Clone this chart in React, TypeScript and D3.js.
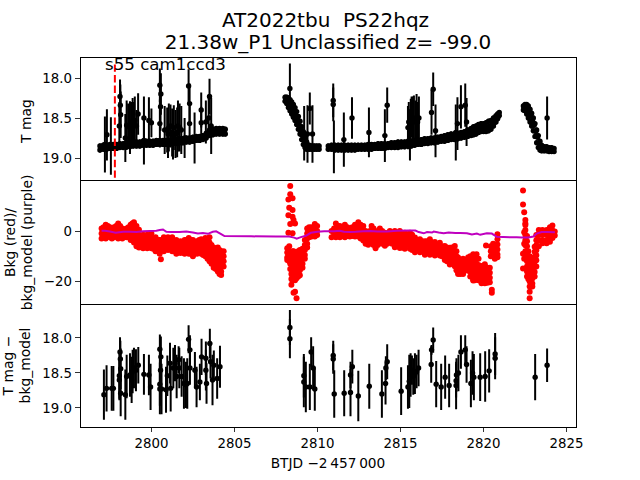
import React from "react";
import * as d3 from "d3";

const titleLines = ["AT2022tbu  PS22hqz", "21.38w_P1 Unclassified z= -99.0"];
const sectorLabel = "s55 cam1ccd3";
const xTicks = [2800, 2805, 2810, 2815, 2820, 2825];
const magTicks = [18.0, 18.5, 19.0];
const bkgTicks = [0, -20];
const markerDay = 2797.8;

// dense, low-noise photometry band (T mag panel): a bright and a faint reading per epoch
const bandDays = [
  2796.9,2797.1,2797.3,2797.5,2797.7,2797.9,2798.1,2798.3,2798.5,2798.7,2798.9,2799.1,2799.3,2799.5,2799.7,2799.9,2800.1,2800.3,2800.5,2800.7,
  2800.9,2801.1,2801.3,2801.5,2801.7,2801.9,2802.1,2802.3,2802.5,2802.7,2802.9,2803.1,2803.3,2803.5,2803.7,2803.9,2804.1,2804.3,2804.45,
  2808.05,2808.15,2808.25,2808.35,2808.45,2808.55,2808.65,2808.75,2808.85,2808.95,2809.05,2809.15,2809.25,2809.35,2809.5,2809.65,2809.8,2809.95,2810.1,
  2810.65,2810.85,2811.05,2811.25,2811.45,2811.65,2811.85,2812.05,2812.25,2812.45,2812.65,2812.85,2813.05,2813.25,2813.45,2813.65,2813.85,2814.05,2814.25,2814.45,
  2814.65,2814.85,2815.05,2815.25,2815.45,2815.65,2815.85,2816.05,2816.25,2816.45,2816.65,2816.85,2817.05,2817.25,2817.45,2817.65,2817.85,2818.05,2818.25,2818.45,
  2818.65,2818.85,2819.05,2819.25,2819.4,2819.55,2819.7,2819.85,2820.0,2820.15,2820.3,2820.45,2820.6,2820.75,2820.85,2820.95,
  2822.4,2822.5,2822.6,2822.7,2822.8,2822.9,2823.0,2823.1,2823.2,2823.3,2823.4,2823.5,2823.65,2823.8,2823.95,2824.1,2824.25,
];
const bandBright = [
  18.85,18.84,18.84,18.83,18.83,18.83,18.82,18.82,18.81,18.81,18.80,18.80,18.80,18.79,18.79,18.79,18.79,18.78,18.78,18.78,
  18.78,18.78,18.77,18.77,18.76,18.76,18.75,18.75,18.74,18.73,18.73,18.72,18.69,18.65,18.64,18.63,18.63,18.63,18.64,
  18.24,18.24,18.25,18.27,18.30,18.33,18.37,18.42,18.48,18.54,18.61,18.67,18.74,18.80,18.84,18.85,18.85,18.85,18.85,
  18.85,18.84,18.84,18.84,18.84,18.84,18.84,18.84,18.84,18.84,18.84,18.84,18.83,18.83,18.83,18.82,18.82,18.82,18.82,18.81,
  18.81,18.80,18.80,18.80,18.79,18.79,18.78,18.78,18.77,18.76,18.76,18.75,18.75,18.74,18.73,18.72,18.71,18.70,18.70,18.69,
  18.68,18.67,18.65,18.63,18.61,18.60,18.58,18.57,18.57,18.56,18.54,18.53,18.50,18.47,18.45,18.43,
  18.35,18.33,18.33,18.35,18.39,18.44,18.50,18.57,18.65,18.72,18.79,18.84,18.86,18.86,18.87,18.87,18.88,
];
const bandFaint = [
  18.90,18.89,18.89,18.88,18.88,18.88,18.87,18.87,18.86,18.86,18.85,18.85,18.85,18.84,18.84,18.84,18.84,18.83,18.83,18.83,
  18.83,18.83,18.82,18.82,18.81,18.81,18.80,18.80,18.79,18.78,18.78,18.77,18.75,18.72,18.71,18.70,18.70,18.70,18.70,
  18.29,18.32,18.37,18.41,18.45,18.49,18.53,18.58,18.64,18.70,18.77,18.83,18.87,18.89,18.89,18.89,18.89,18.89,18.89,
  18.89,18.89,18.90,18.90,18.90,18.90,18.90,18.90,18.90,18.89,18.89,18.89,18.89,18.89,18.88,18.88,18.88,18.88,18.87,18.87,
  18.87,18.87,18.86,18.86,18.85,18.85,18.84,18.83,18.83,18.82,18.82,18.81,18.81,18.80,18.79,18.79,18.78,18.77,18.77,18.76,
  18.75,18.74,18.73,18.72,18.71,18.70,18.68,18.67,18.67,18.67,18.66,18.64,18.60,18.55,18.51,18.47,
  18.40,18.41,18.45,18.50,18.55,18.60,18.66,18.73,18.81,18.87,18.90,18.91,18.91,18.91,18.92,18.92,18.92,
];
const bandMidDays = [
  2797.0,2797.2,2797.4,2797.6,2797.8,2798.0,2798.2,2798.4,2798.6,2798.8,2799.0,2799.2,2799.4,2799.6,2799.8,2800.0,2800.2,2800.4,2800.6,2800.8,
  2801.0,2801.2,2801.4,2801.6,2801.8,2802.0,2802.2,2802.4,2802.6,2802.8,2803.0,2803.2,2803.4,2803.6,2803.8,2804.0,2804.2,2804.4,
  2808.1,2808.2,2808.3,2808.4,2808.5,2808.6,2808.7,2808.8,2808.9,2809.0,2809.1,2809.2,2809.3,2809.42,2809.58,2809.72,2809.88,2810.02,
  2810.75,2810.95,2811.15,2811.35,2811.55,2811.75,2811.95,2812.15,2812.35,2812.55,2812.75,2812.95,2813.15,2813.35,2813.55,2813.75,2813.95,2814.15,2814.35,2814.55,
  2814.75,2814.95,2815.15,2815.35,2815.55,2815.75,2815.95,2816.15,2816.35,2816.55,2816.75,2816.95,2817.15,2817.35,2817.55,2817.75,2817.95,2818.15,2818.35,2818.55,
  2818.75,2818.95,2819.15,2819.32,2819.48,2819.62,2819.78,2819.92,2820.08,2820.22,2820.38,2820.52,2820.68,2820.8,2820.9,
  2822.45,2822.55,2822.65,2822.75,2822.85,2822.95,2823.05,2823.15,2823.25,2823.35,2823.45,2823.58,2823.72,2823.88,2824.02,2824.18,
];
const bandMidMags = [
  18.87,18.87,18.86,18.86,18.855,18.85,18.85,18.845,18.84,18.835,18.83,18.825,18.82,18.82,18.815,18.81,18.81,18.81,18.805,18.805,
  18.80,18.80,18.795,18.79,18.785,18.78,18.775,18.77,18.765,18.76,18.755,18.74,18.72,18.69,18.67,18.665,18.665,18.67,
  18.27,18.29,18.32,18.35,18.39,18.43,18.47,18.53,18.59,18.65,18.72,18.78,18.84,18.86,18.87,18.87,18.87,18.87,
  18.87,18.87,18.87,18.87,18.87,18.87,18.87,18.87,18.87,18.87,18.865,18.865,18.86,18.86,18.855,18.85,18.85,18.85,18.845,18.84,
  18.84,18.835,18.83,18.83,18.82,18.82,18.81,18.805,18.80,18.79,18.79,18.78,18.78,18.77,18.76,18.755,18.745,18.735,18.735,18.725,
  18.715,18.705,18.69,18.675,18.66,18.65,18.63,18.62,18.62,18.615,18.60,18.585,18.55,18.51,18.48,
  18.37,18.37,18.39,18.43,18.47,18.53,18.59,18.67,18.74,18.82,18.87,18.88,18.88,18.89,18.89,18.90,
];
const bandErr = 0.03;

// outlying T mag epochs with large error bars
const topDays = [
  2797.2,2797.32,2797.56,2798.11,2798.13,2798.15,2798.07,2798.43,2798.51,2798.6,2798.71,2798.8,2798.87,2798.95,2799.0,2799.1,2799.2,2799.55,2799.55,2799.85,2800.0,2800.51,2800.57,2800.55,2800.51,
  2800.8,2800.95,2801.0,2801.05,2801.15,2801.25,2801.3,2801.35,2801.45,2801.55,2801.6,2801.7,2801.8,2802.0,2802.24,2802.3,2802.3,2802.6,2803.0,2803.0,2803.28,2803.45,2803.5,2803.6,
  2808.34,2809.2,2809.4,2809.54,2809.7,2810.95,2810.95,2810.99,2811.59,2812.08,2813.1,2814.06,2814.2,2815.45,2815.5,2815.57,2815.62,2815.67,2815.75,2815.81,2815.9,2815.97,2816.03,2816.11,
  2816.87,2816.97,2817.11,2818.33,2818.43,2818.64,2818.9,2818.98,2823.83,
];
const topMags = [
  18.83,18.71,18.85,18.23,18.34,18.46,18.60,18.75,18.59,18.60,18.62,18.58,18.55,18.58,18.53,18.60,18.45,18.50,18.78,18.53,18.56,18.09,18.20,18.36,18.57,
  18.65,18.65,18.70,18.62,18.60,18.68,18.72,18.62,18.70,18.68,18.60,18.62,18.65,18.75,18.10,18.32,18.57,18.75,18.40,18.56,18.55,18.50,18.23,18.60,
  18.13,18.69,18.70,18.38,18.70,18.28,18.33,18.86,18.77,18.50,18.68,18.72,18.34,18.62,18.55,18.71,18.52,18.48,18.50,18.52,18.55,18.50,18.55,18.50,
  18.43,18.14,18.66,18.68,18.57,18.36,18.34,18.55,18.50,
];
const topErrs = [
  .35,.32,.36,.21,.26,.29,.30,.30,.31,.28,.33,.28,.30,.28,.30,.20,.26,.27,.30,.29,.18,.21,.26,.30,.30,
  .30,.28,.30,.30,.27,.30,.30,.28,.30,.31,.32,.30,.30,.25,.21,.25,.25,.32,.22,.20,.27,.25,.22,.35,
  .31,.34,.36,.20,.36,.21,.21,.33,.34,.26,.31,.33,.22,.27,.25,.32,.26,.25,.27,.30,.27,.30,.25,.27,
  .28,.21,.33,.35,.33,.27,.27,.30,.27,
];

// background-subtracted residual panel
const residDays = [
  2797.14,2797.30,2797.61,2797.71,2798.07,2798.11,2798.13,2798.15,2798.07,2798.15,2798.43,2798.51,2798.71,2798.81,2798.87,2798.95,2799.07,2799.21,2799.55,2799.85,2799.95,
  2800.51,2800.57,2800.55,2800.51,2800.51,2800.61,2800.88,2800.96,2801.12,2801.16,2801.32,2801.42,2801.52,2801.64,2801.68,2801.82,2801.96,2802.08,2802.16,2802.24,2802.32,2802.32,
  2802.62,2802.72,2802.92,2803.02,2803.28,2803.28,2803.32,2803.52,2803.56,2803.68,2803.76,2803.96,2804.13,
  2808.34,2808.34,2809.18,2809.18,2809.30,2809.54,2809.62,2809.74,2809.84,2810.95,2810.95,2811.01,
  2811.61,2811.99,2811.99,2812.10,2812.46,2813.12,2813.88,2814.10,2814.12,2814.20,2815.04,2815.45,2815.53,2815.61,2815.69,2815.77,2815.87,2815.97,2816.09,
  2816.85,2816.87,2816.97,2817.15,2817.45,2817.69,2817.93,2818.35,2818.35,2818.37,2818.49,2818.64,2818.90,2818.98,2819.24,2819.34,2819.42,2819.80,2820.10,2820.34,2820.70,2820.70,2823.11,2823.83,
];
const residMags = [
  18.81,18.72,18.72,18.72,18.60,18.20,18.30,18.44,18.54,18.79,18.81,18.55,18.53,18.60,18.48,18.43,18.46,18.39,18.52,18.53,18.70,
  18.16,18.27,18.46,18.66,18.73,18.73,18.74,18.54,18.36,18.72,18.43,18.36,18.55,18.31,18.43,18.55,18.65,18.67,18.65,18.02,18.17,18.43,
  18.46,18.70,18.63,18.27,18.46,18.29,18.65,18.08,18.34,18.60,18.39,18.58,18.41,
  17.85,18.01,18.54,18.63,18.70,18.70,18.20,18.43,18.73,18.25,18.30,18.80,
  18.79,18.78,18.53,18.41,18.83,18.69,18.80,18.65,18.43,18.34,18.76,18.70,18.62,18.53,18.46,18.55,18.51,18.48,18.43,
  18.38,18.17,18.03,18.66,18.70,18.56,18.68,18.68,18.61,18.53,18.50,18.20,18.17,18.38,18.65,18.50,18.56,18.56,18.55,18.47,18.23,18.29,18.56,18.39,
];
const residErrs = [
  .36,.33,.32,.32,.29,.21,.26,.29,.33,.33,.36,.31,.31,.33,.31,.29,.30,.26,.29,.29,.33,
  .21,.29,.33,.31,.36,.36,.33,.29,.29,.33,.29,.26,.31,.19,.29,.29,.36,.33,.36,.20,.21,.24,
  .26,.29,.26,.26,.29,.24,.29,.21,.24,.36,.21,.29,.30,
  .25,.28,.31,.36,.36,.33,.21,.31,.31,.21,.21,.34,
  .33,.34,.19,.24,.36,.32,.34,.30,.17,.25,.34,.31,.38,.31,.21,.26,.29,.24,.26,
  .26,.07,.18,.33,.33,.31,.31,.34,.24,.24,.26,.24,.21,.26,.34,.31,.33,.34,.36,.31,.30,.30,.33,.24,
];

// measured background: one list of values per epoch column
const bkgDays = [
  2797.0,2797.25,2797.5,2797.75,2798.0,2798.25,2798.5,2798.75,2798.95,2799.25,2799.5,2799.75,2800.0,2800.25,2800.5,2800.57,2800.75,2801.0,2801.25,2801.5,2801.75,
  2802.0,2802.25,2802.5,2802.75,2803.0,2803.25,2803.5,2803.75,2804.0,2804.2,2804.35,
  2808.18,2808.25,2808.3,2808.36,2808.43,2808.5,2808.56,2808.65,2808.74,2808.84,2808.94,2809.1,2809.24,2809.38,2809.5,2809.64,2809.84,2809.98,
  2810.85,2811.11,2811.35,2811.65,2811.95,2812.26,2812.46,2812.76,2813.06,2813.26,2813.5,2813.76,2814.06,2814.36,2814.66,2814.96,2815.26,2815.57,2815.87,2816.17,2816.47,2816.77,
  2817.07,2817.37,2817.67,2817.97,2818.27,2818.47,2818.77,2819.07,2819.38,2819.58,2819.88,2820.08,2820.15,2820.38,2820.44,2820.5,2820.58,2820.68,2820.84,
  2822.38,2822.45,2822.52,2822.62,2822.7,2822.78,2822.86,2822.94,2823.08,2823.18,2823.33,2823.55,2823.8,2824.0,2824.15,2824.29,
];
const bkgValues = [
  [1,-1,-3],[2.5,.5,-1.5,-3],[1.5,-.5,-2.5],[1.5,-.5,-2.5],[3,1,-1,-3],[1,-1,-3],[1,-1,-2.5],[2.5,.5,-1.5,-3.5],[3.5,1.5,-.5,-2.5,-4.5],[.5,-1.5,-3.5,-5.5,-6.5],[-1.5,-3.5,-5.5,-6.8],[-1.5,-3.5,-5.5,-6.8],[-1,-3,-5,-6.8],[-2.5,-4.5,-6.5,-8],[-3.5,-5.5,-7.5,-9],[-11.2],[-2.5,-4.5,-6.5,-8],[-2.5,-4.5,-6,-7.5],[-2.5,-4.5,-6.5,-8],[-3.5,-5.5,-7.5,-9],[-4,-6,-8,-8.7],
  [-3.5,-5.5,-7.5,-9],[-2.8,-4.8,-6.8,-9],[-3.5,-5.5,-7.5,-9.5,-10],[-4,-6,-8,-9],[-3.3,-5.3,-7.3,-9],[-2.8,-4.8,-6.8,-8.8,-10],[-2.5,-4.5,-6.5,-8.5,-10.5,-12],[-6.5,-8.5,-10.5,-12.5,-14.5],[-6.5,-8.5,-10.5,-12.5,-14.5,-16],[-8,-10,-12,-14,-16,-17.4],[-8,-10,-12,-14],
  [-6.8,-8.5,-10.5,-11.5],[-.7,12.5,6.3],[-6,-8,-10,-12,9.2],[-9,-11,-13,-15,2.8,17.8,14.6],[-8.8,-11,-13,-15,-17,-19,-21.3],[-8,-10,-12,-14,-16,-18,-19.5,13,8.3,5.7,-.9],[4.4,-24.4,-8,-11,-15],[3,-10,-13,-17,-19.5,-24],[-9,-11,-13,-15,-17,-18.7,-26.6],[-8,-10,-12,-14,-16,-18],[-7.5,-9.5,-11.5,-13.5,-15.5,-17.5],[-7,-9,-11,-13,-14.5],[-3.5,-5.5,-7.5,-9.5,-11],[1,-1,-3,-5,-6.5],[1.5,-.5,-2.5],[1.5,-.5,-2.2],[2.8,.8,-1.2,-2.2],[2,0,-1.6],
  [0,-2.5],[3,1,-1,-2.5],[2,0,-2,-2.5],[2.5,.5,-1.5,-2.5],[1,-1,-2.2],[2.5,.5,-1.5,-2.2],[3.5,1.5,-.5,-2.2],[2,0,-2,-3.7],[-.7,-2.7,-4.7,-5.4],[2,0,-2,-3.7],[-.7,-2.7,-4.7,-6.8],[1,-1,-3.7],[-.7,-2.7,-4.7,-5.8],[0,-2,-4.5],[0,-2,-4,-6.4],[0,-2,-4,-6.7],[-.7,-2.7,-4.7,-7],[-.7,-2.7,-4.7,-7],[-2.6,-4.6,-6.6,-8.4],[-3.3,-5.3,-7.3,-8.4],[-4,-6,-8,-9.4],[-3.3,-5.3,-7.3,-9.4],
  [-4.3,-6.3,-8.3,-9.7],[-4.6,-6.6,-8.6,-9.7],[-5.9,-7.9,-9.9,-11.5],[-6.6,-8.6,-10.6,-12.6,-13.3],[-5.9,-7.9,-9.9,-11.9,-13.9],[-10.5,-12.5,-14.5,-16.5,-17],[-11,-13,-15,-17],[-10.5,-12.5,-14.5,-15.7],[-9.2,-11.2,-13.2,-15.2,-17.2,-19.2,-19.6],[-9.2,-11.2,-13.2,-15.2,-17.6],[-13.8,-15.8,-17.8,-19.8,-20.7],[-13.2,-15.2,-17.2,-19.2,-20.7],[-5.7],[-14.5,-16.5,-18.5,-20.3],[-6,-8,-10],[-24.4,-23.3],[-5,-7,-9],[-5.3,-7.3,-9.3,-11],[-1.3,-3.3,-5.3,-7.3,-9.3,-10.4],
  [16.1,10.5,-9,-14.8],[7.4,-.5,-5,-11],[4.4,3,2.4,.4,-1.6,-3.6,-5.6,-8],[-2,-4,-6,-8,-10,-12,-14,-16,-18],[-8,-10,-12,-15,-19],[-10,-12,-14,-16,-18,-20,-22,-24,-26.6],[-11,-13,-16,-19,-22],[-10.8,-12.8,-14.8,-16.8,-18.8,-20.8,-22],[-6.2,-8.2,-10.2,-12.2,-14.2,-16.2,-18],[-1.6,-3.6,-5.6,-7.6,-9.6,-11.6,-14],[.4,-1.6,-3.6,-6],[.4,-1.6,-3.6,-4.8],[.4,-1.6,-3.6,-4.8],[1.5,-.5,-2.5,-4.2],[2.2,.2,-1.8,-2.8],[-.2,-1.8],
];
// in-between epochs of the background, staggered against the columns above
const bkgMidDays = [
  2797.12,2797.38,2797.62,2797.88,2798.12,2798.38,2798.62,2798.85,2799.1,2799.38,2799.62,2799.88,2800.12,2800.38,2800.62,2800.88,2801.12,2801.38,2801.62,2801.88,
  2802.12,2802.38,2802.62,2802.88,2803.12,2803.38,2803.62,2803.88,2804.1,
  2811.0,2811.23,2811.5,2811.8,2812.1,2812.36,2812.6,2812.9,2813.16,2813.38,2813.63,2813.9,2814.2,2814.5,2814.8,2815.1,2815.4,2815.7,2816.0,2816.3,2816.6,2816.9,
  2817.2,2817.5,2817.8,2818.1,2818.37,2818.6,2818.9,2819.2,2819.48,2819.7,2819.98,2820.23,
];
const bkgMidValues = [
  [1.5,-.5,-2.5],[2,0,-2],[.5,-1.5,-3],[2,0,-2],[2,0,-2],[0,-2],[1.5,-.5,-2.5],[3,1,-1,-3],[2,0,-2,-4,-6],[-2.5,-4.5,-6],[-2.5,-4.5,-6],[-2,-4,-6],[-3,-5,-7],[-3.5,-5.5,-7.5],[-3.5,-5.5,-7.5],[-3.5,-5.5,-7],[-3.5,-5.5,-7],[-4.5,-6.5,-8],[-4.5,-6.5,-8.5],[-4.5,-6.5,-8.5],
  [-3.5,-5.5,-7.5],[-3.5,-5.5,-7.5,-9],[-4.5,-6.5,-8.5],[-3.5,-5.5,-7.5],[-3.5,-5.5,-7.5,-9.5],[-3.5,-5.5,-7.5,-9.5,-11],[-5.5,-7.5,-9.5,-11.5,-13],[-7.5,-9.5,-11.5,-13.5,-15],[-7.5,-9.5,-11.5,-13.5,-15.5,-17],
  [1,-1],[2,0,-2],[1.5,-.5,-2],[1.5,-.5,-2],[1.5,-.5,-2],[2,0,-2],[2.5,.5,-1.5,-3],[0,-2,-4,-5],[0,-2,-4,-4.5],[1,-1,-3,-5.5],[0,-2,-4,-5.5],[0,-2,-4,-5],[-1,-3,-5],[-1,-3,-5],[-1,-3,-5.5],[-1,-3,-5,-6.5],[-1.5,-3.5,-5.5],[-1.5,-3.5,-5.5,-7.5],[-3.5,-5.5,-7.5],[-4,-6,-8],[-4,-6,-8],[-4.5,-6.5,-8.5],
  [-5.5,-7.5,-9],[-6,-8,-10],[-6.5,-8.5,-10.5,-12],[-6.5,-8.5,-10.5,-12.5],[-8,-10,-12,-14,-15.5],[-11.5,-13.5,-15.5,-17],[-11.5,-13.5,-15.5],[-10,-12,-14,-16,-18],[-10,-12,-14,-16,-18,-19.5],[-11,-13.5,-15.5,-17.5,-19.5],[-14,-16,-18,-20],[-14.5,-16.5,-18.5,-20.5],
];

// purple model curve
const modelDays = [
  2797.0,2797.2,2797.5,2797.85,2798.3,2798.7,2799.1,2799.5,2799.9,2800.3,2800.5,2800.7,2800.9,2801.2,2801.7,2802.1,2802.5,2802.8,2803.1,2803.4,2803.7,2803.9,2804.2,2804.4,
  2806,2807.5,2808.3,2808.6,2808.75,2809.0,2809.3,2809.6,2810.0,2810.4,2810.75,2811.0,2811.35,2811.6,2811.95,2812.3,2812.76,2813.2,2813.6,2814.2,2814.8,2815.5,2815.9,2816.1,2816.4,2816.6,2816.9,2817.0,2817.3,2817.6,2817.9,2818.3,2818.6,2819.0,2819.3,2819.6,2819.8,2820.2,2820.5,2820.8,2821.2,2822,2822.3,2822.7,2823.0,2823.2,2823.5,2823.8,2824.3,
];
const modelVals = [
  .1,.1,-.2,-.7,-.3,-.3,-.4,-.1,0,.1,.4,.6,-.3,-.4,-.4,-.2,-.6,-1,-.8,-1.1,-.3,-.1,-1.2,-2,
  -2.1,-2.2,-2.2,-2.6,-3,-2.4,-1.9,-.7,-.3,-.1,-.1,-.1,.1,-.3,-.4,-.3,-.1,0,-.2,-.2,.1,.2,.2,-.4,-.9,-.4,-.6,-.2,-.6,-.9,-.6,-.8,-.8,-.9,-1.4,-1,-1.5,-.9,-1,-2.3,-2.4,-2.5,-2.6,-2.6,-2.2,-1,-.4,-.4,-.5,
];

const W = 640, H = 480, L = 80, R = 576;
const x = d3.scaleLinear().domain([2795.7, 2825.57]).range([L, R]);
const panels = [
  { top: 57.6, bottom: 180.8 },
  { top: 180.8, bottom: 304 },
  { top: 304, bottom: 427.2 },
];
const yTop = d3.scaleLinear().domain([17.745, 19.285]).range([panels[0].top, panels[0].bottom]);
const yMid = d3.scaleLinear().domain([19.9, -28.9]).range([panels[1].top, panels[1].bottom]);
const yBot = d3.scaleLinear().domain([17.515, 19.275]).range([panels[2].top, panels[2].bottom]);

const FONT = "'DejaVu Sans', sans-serif";
const modelLine = d3.line<number>().x((d) => x(d)).y((_, i) => yMid(modelVals[i]));

function ErrPoints({ days, mags, errs, y }: { days: number[]; mags: number[]; errs: number[] | number; y: d3.ScaleLinear<number, number> }) {
  return (
    <g>
      {days.map((d, i) => {
        const e = typeof errs === "number" ? errs : errs[i];
        return (
          <g key={i}>
            <line x1={x(d)} x2={x(d)} y1={y(mags[i] - e)} y2={y(mags[i] + e)} stroke="#000" strokeWidth={2} />
            <circle cx={x(d)} cy={y(mags[i])} r={2.7} fill="#000" />
          </g>
        );
      })}
    </g>
  );
}

function Columns({ days, values }: { days: number[]; values: number[][] }) {
  return (
    <g>
      {days.map((d, i) =>
        values[i].map((v, j) => <circle key={`${i}-${j}`} cx={x(d)} cy={yMid(v)} r={3} fill="#ff0000" />)
      )}
    </g>
  );
}

function YAxis({ ticks, y, fmt }: { ticks: number[]; y: d3.ScaleLinear<number, number>; fmt: (v: number) => string }) {
  return (
    <g>
      {ticks.map((t) => (
        <g key={t}>
          <line x1={L - 4.7} x2={L} y1={y(t)} y2={y(t)} stroke="#000" strokeWidth={0.8} shapeRendering="crispEdges" />
          <text x={L - 8} y={y(t)} dy="0.36em" textAnchor="end" fontSize={13.33} fontFamily={FONT} fill="#000">{fmt(t)}</text>
        </g>
      ))}
    </g>
  );
}

function YLabel({ lines, cx, cy }: { lines: string[]; cx: number[]; cy: number }) {
  return (
    <g>
      {lines.map((s, i) => (
        <text key={i} transform={`translate(${cx[i]},${cy}) rotate(-90)`} textAnchor="middle" fontSize={13.9} fontFamily={FONT} fill="#000">{s}</text>
      ))}
    </g>
  );
}

export default function App() {
  const fmtMag = (v: number) => v.toFixed(1);
  const fmtBkg = (v: number) => (v < 0 ? "\u2212" + Math.abs(v) : String(v));
  return (
    <svg width={W} height={H} viewBox={`0 0 ${W} ${H}`} style={{ position: "absolute", left: 0, top: 0, background: "#fff" }}>
      <defs>
        {panels.map((p, i) => (
          <clipPath id={`clip${i}`} key={i}>
            <rect x={L} y={p.top} width={R - L} height={p.bottom - p.top} />
          </clipPath>
        ))}
      </defs>

      <g clipPath="url(#clip0)">
        <ErrPoints days={topDays} mags={topMags} errs={topErrs} y={yTop} />
        <ErrPoints days={bandDays} mags={bandBright} errs={bandErr} y={yTop} />
        <ErrPoints days={bandDays} mags={bandFaint} errs={bandErr} y={yTop} />
        <ErrPoints days={bandMidDays} mags={bandMidMags} errs={bandErr} y={yTop} />
        <line x1={x(markerDay)} x2={x(markerDay)} y1={yTop(17.83)} y2={panels[0].bottom} stroke="#ff0000" strokeWidth={2} strokeDasharray="7.4 3.2" />
      </g>

      <g clipPath="url(#clip1)">
        <Columns days={bkgDays} values={bkgValues} />
        <Columns days={bkgMidDays} values={bkgMidValues} />
        <path d={modelLine(modelDays) ?? ""} fill="none" stroke="#bf00bf" strokeWidth={2} />
      </g>

      <g clipPath="url(#clip2)">
        <ErrPoints days={residDays} mags={residMags} errs={residErrs} y={yBot} />
      </g>

      {panels.map((p, i) => (
        <rect key={i} x={L} y={p.top} width={R - L} height={p.bottom - p.top} fill="none" stroke="#000" strokeWidth={1} shapeRendering="crispEdges" />
      ))}

      <YAxis ticks={magTicks} y={yTop} fmt={fmtMag} />
      <YAxis ticks={bkgTicks} y={yMid} fmt={fmtBkg} />
      <YAxis ticks={magTicks} y={yBot} fmt={fmtMag} />

      {xTicks.map((t) => (
        <g key={t}>
          <line x1={x(t)} x2={x(t)} y1={427.2} y2={431.9} stroke="#000" strokeWidth={0.8} shapeRendering="crispEdges" />
          <text x={x(t)} y={448} textAnchor="middle" fontSize={13.33} fontFamily={FONT} fill="#000">{t}</text>
        </g>
      ))}

      <text x={325.5} y={27} textAnchor="middle" fontSize={20} fontFamily={FONT} fill="#000" style={{ whiteSpace: "pre" }}>{titleLines[0]}</text>
      <text x={328} y={49} textAnchor="middle" fontSize={20} fontFamily={FONT} fill="#000">{titleLines[1]}</text>
      <text x={105} y={70} fontSize={16.67} fontFamily={FONT} fill="#000">{sectorLabel}</text>

      <YLabel lines={["T mag"]} cx={[31]} cy={121} />
      <YLabel lines={["Bkg (red)/", "bkg_model (purple)"]} cx={[15, 32]} cy={242.5} />
      <YLabel lines={["T mag \u2212", "bkg_model"]} cx={[13, 30]} cy={365.5} />

      <text x={328} y={468} textAnchor="middle" fontSize={13.7} fontFamily={FONT} fill="#000">{"BTJD \u22122\u2009457\u2009000"}</text>
    </svg>
  );
}
